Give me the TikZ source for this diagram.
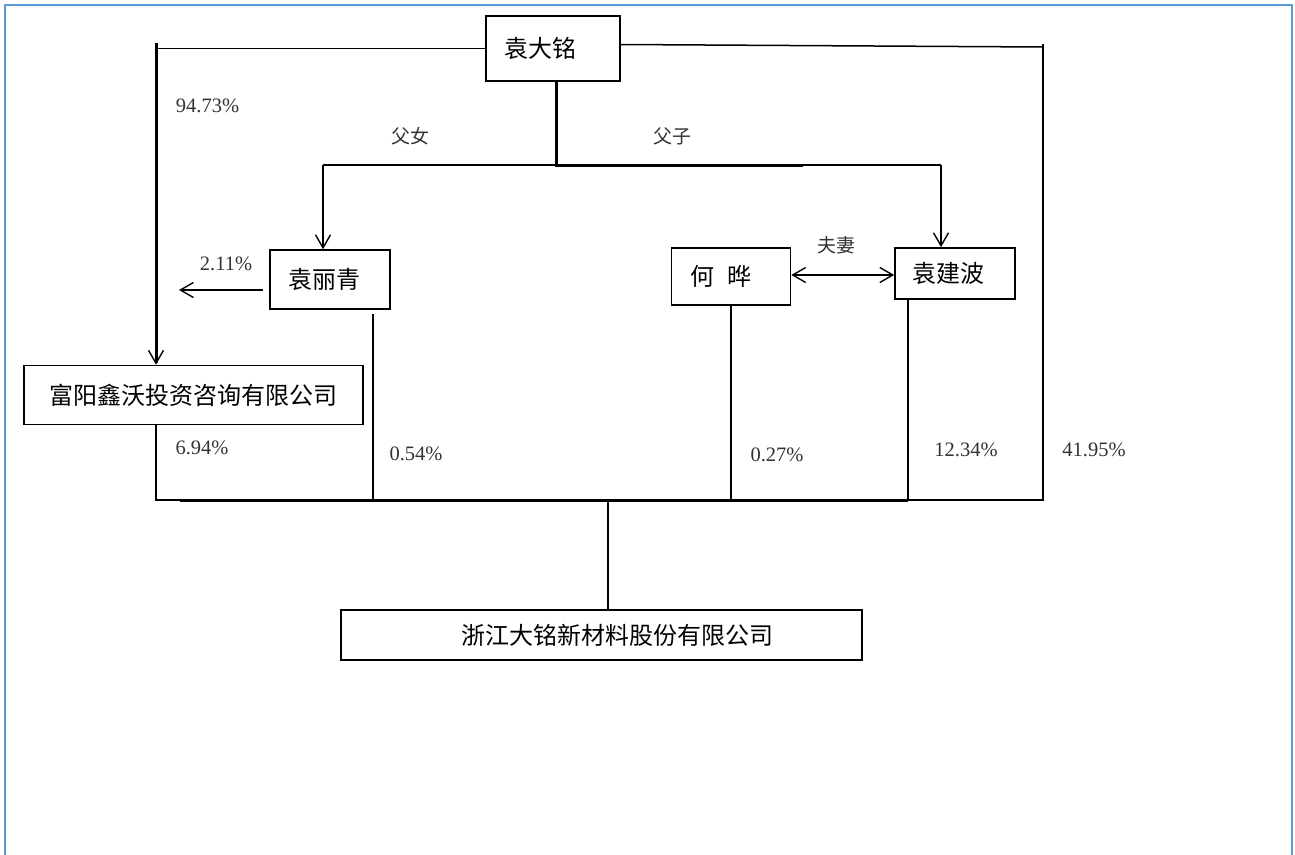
\documentclass[tikz,border=0pt]{standalone}
\usepackage{fontspec}
\newfontfamily\cjk{Noto Sans CJK SC}
\newfontfamily\pctfont{Liberation Serif}
\usetikzlibrary{arrows.meta}
\definecolor{frameblue}{HTML}{5B9BD5}
\begin{document}
\begin{tikzpicture}[x=1pt,y=-1pt,
  box/.style={draw, line width=1.6pt, inner ysep=0pt, align=left,
    font=\cjk\fontsize{24}{28}\selectfont},
  rel/.style={font=\cjk\fontsize{19}{22}\selectfont, text=black!80, inner sep=0pt},
  pct/.style={font=\pctfont\fontsize{20.5}{24}\selectfont, text=black!80, inner sep=0pt},
  ln/.style={line width=1.5pt},
  thk/.style={line width=3pt},
  tip/.style={-{Straight Barb[length=13pt,width=15pt,line width=1.4pt]}},
  both/.style={{Straight Barb[length=13pt,width=15pt,line width=1.4pt]}-{Straight Barb[length=13pt,width=15pt,line width=1.4pt]}}
]
\useasboundingbox (0,0) rectangle (1295,854);
\draw[frameblue, line width=2.2pt] (5,858) -- (5,5) -- (1292,5) -- (1292,858);

% boxes
\node[box, text width=98pt, inner xsep=18pt, minimum height=65pt] (dm) at (553,48.5) {袁大铭};
\node[box, text width=84pt, inner xsep=18pt, minimum height=59pt] (lq) at (330,279.5) {袁丽青};
\node[box, text width=81pt, inner xsep=19pt, minimum height=57pt] (hy) at (731,276.5) {何 \hspace{5pt}晔};
\node[box, text width=86pt, inner xsep=17pt, minimum height=51pt] (jb) at (955,273.5) {袁建波};
\node[box, align=center, inner xsep=0pt, minimum width=339pt, minimum height=59pt] (fy) at (193.5,395) {富阳鑫沃投资咨询有限公司};
\node[box, align=center, inner xsep=0pt, minimum width=521pt, minimum height=50pt] (zj) at (601.7,635) {\hspace*{31pt}浙江大铭新材料股份有限公司};

% coordinates
\coordinate (tl) at (156,48.5);
\coordinate (tr) at (1043,47);
\coordinate (bl) at (156,500);
\coordinate (br) at (1043,500);
\coordinate (bj) at (908,500);
\coordinate (blq) at (373,500);
\coordinate (bhy) at (731,500);
\coordinate (bm) at (608,500);
\coordinate (mj) at (556,165);
\coordinate (ml) at (323,165);
\coordinate (mr) at (941,165);
\coordinate (mt) at (803,165);
\coordinate (t211) at (179,290);
\coordinate (sp) at (792,275);

% top left branch
\draw[ln] (dm.west) -- (tl);
\draw[thk, tip] ([yshift=6pt]tl) -- (tl |- fy.north);
% top right branch and bus
\draw[ln] ([yshift=4pt]dm.east) -- (tr);
\draw[ln] ([yshift=3pt]tr) -- (br) -- (bl) -- (bl |- fy.south);
\draw[thk] ([xshift=24pt]bl) -- (bj);
% verticals into the bus
\draw[ln, shorten <=4pt] (blq |- lq.south) -- (blq);
\draw[ln] (bhy |- hy.south) -- (bhy);
\draw[ln] (bj |- jb.south) -- (bj);
\draw[ln] (bm) -- (bm |- zj.north);
% family branch
\draw[thk] (mj |- dm.south) -- (mj) -- (mt);
\draw[ln] (ml) -- (mr);
\draw[ln, tip] (ml) -- (ml |- lq.north);
\draw[ln, tip] (mr) -- (mr |- jb.north);
% other arrows
\draw[ln, tip, shorten <=6pt] (lq.west |- t211) -- (t211);
\draw[ln, both] (hy.east |- sp) -- (jb.west |- sp);

% labels
\node[rel] (fn) at (410,136) {父女};
\node[rel] (fz) at (672,136) {父子};
\node[rel] (fq) at (836,245) {夫妻};
\node[pct] (p1) at (207.5,105.5) {94.73\%};
\node[pct] (p2) at (226,264) {2.11\%};
\node[pct] (p3) at (202,448) {6.94\%};
\node[pct] (p4) at (416,454) {0.54\%};
\node[pct] (p5) at (777,455) {0.27\%};
\node[pct] (p6) at (966,450) {12.34\%};
\node[pct] (p7) at (1094,450) {41.95\%};
\end{tikzpicture}
\end{document}
